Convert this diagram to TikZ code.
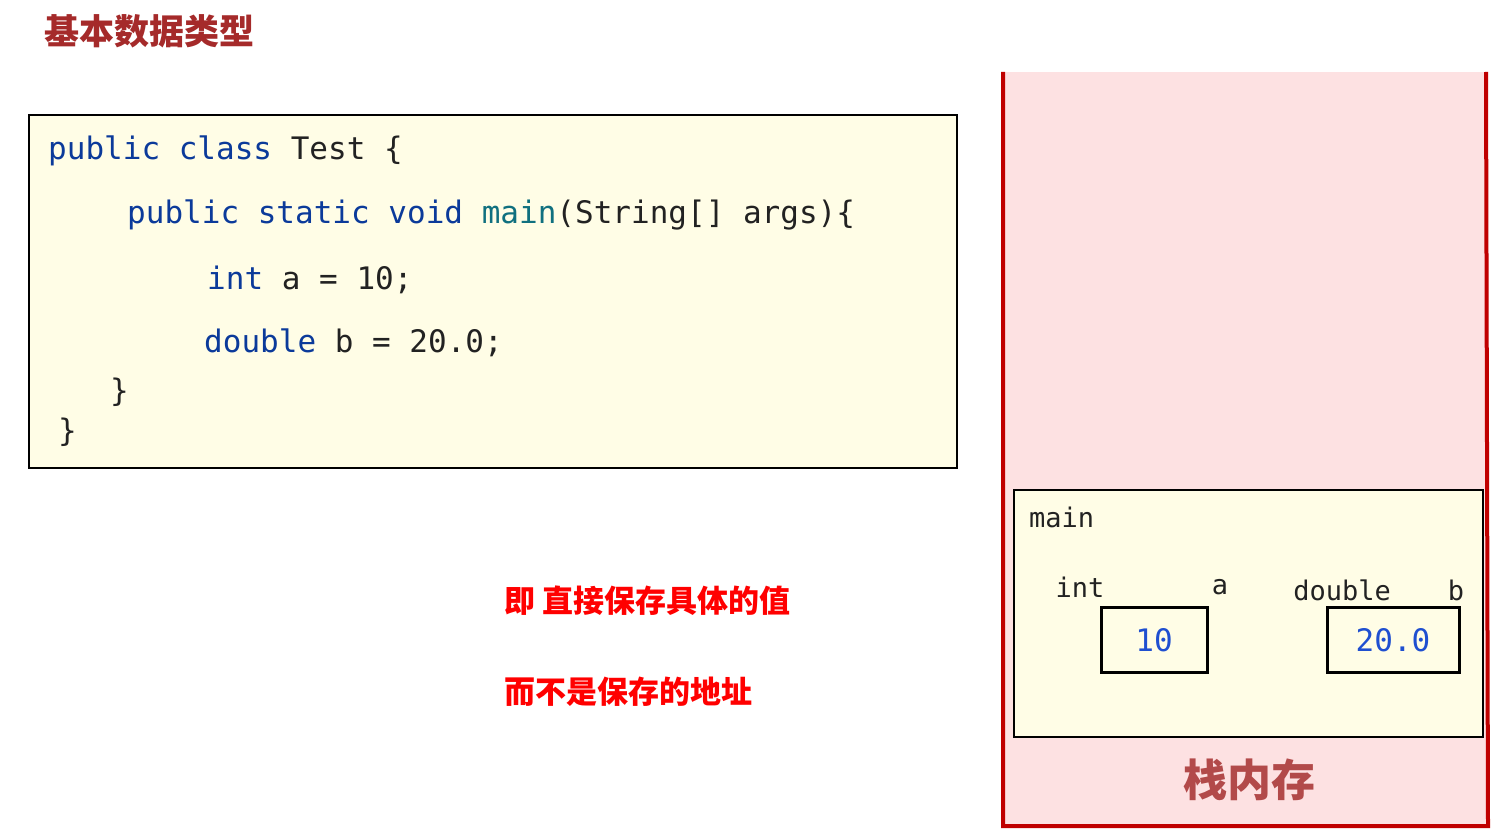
\documentclass[tikz,border=0pt]{standalone}
\usepackage{fontspec}
\setmonofont{DejaVu Sans Mono}
\newfontfamily\cjk{Noto Sans CJK SC}
\definecolor{kw}{HTML}{0B3A9A}
\definecolor{fn}{HTML}{10707F}
\definecolor{tx}{HTML}{222222}
\definecolor{cream}{HTML}{FFFDE6}
\definecolor{pinkbg}{HTML}{FDE1E2}
\definecolor{stk}{HTML}{C00000}
\definecolor{ttl}{HTML}{A52A2A}
\definecolor{num}{HTML}{1F4FD0}
\begin{document}
\begin{tikzpicture}[x=1pt,y=-1pt,
  code/.style={anchor=west,inner sep=0,font=\fontsize{31}{31}\ttfamily,text=tx},
  small/.style={anchor=center,inner sep=0,font=\fontsize{27}{27}\ttfamily,text=tx},
  cn/.style={anchor=west,inner sep=0,font=\fontsize{31}{31}\cjk\bfseries}]
\useasboundingbox (0,0) rectangle (1507,837);
\fill[white] (0,0) rectangle (1507,837);
\node[cn,text=ttl,font=\fontsize{35}{35}\cjk\bfseries] (title) at (44,31) {基本数据类型};
% code box
\draw[fill=cream,line width=1.5pt] (29,115) rectangle (957,468);
\node[code] (l1) at (48,151) {\textcolor{kw}{public class} Test \{};
\node[code] (l2) at (127,215) {\textcolor{kw}{public static void} \textcolor{fn}{main}(String[] args)\{};
\node[code] (l3) at (207,280) {\textcolor{kw}{int} a = 10;};
\node[code] (l4) at (204,343) {\textcolor{kw}{double} b = 20.0;};
\node[code] (l5) at (110,392) {\}};
\node[code] (l6) at (58,432) {\}};
% red notes
\node[cn,text=red] (n1) at (504,601) {即 直接保存具体的值};
\node[cn,text=red] (n2) at (504,692) {而不是保存的地址};
% stack
\fill[pinkbg] (1005,72) rectangle (1486,826);
\draw[stk,line width=4pt] (1003,72) -- (1003,826) -- (1488,826) -- (1486,72);
\draw[fill=cream,line width=1.2pt] (1014,490) rectangle (1483,737);
\node[small,anchor=west] (mn) at (1029,517) {main};
\node[small] (ti) at (1080,587) {int};
\node[small] (va) at (1220,587) {a};
\node[small] (td) at (1342,590) {double};
\node[small] (vb) at (1456,590) {b};
\draw[line width=3pt] (1101,607) rectangle (1207,672);
\draw[line width=3pt] (1327,607) rectangle (1459,672);
\node[small,text=num,font=\fontsize{31}{31}\ttfamily] (v10) at (1154,640) {10};
\node[small,text=num,font=\fontsize{31}{31}\ttfamily] (v20) at (1393,640) {20.0};
\node[anchor=center,inner sep=0,font=\fontsize{44}{44}\cjk\bfseries,text=ttl!85!white] (stack) at (1249,780) {栈内存};
\end{tikzpicture}
\end{document}
